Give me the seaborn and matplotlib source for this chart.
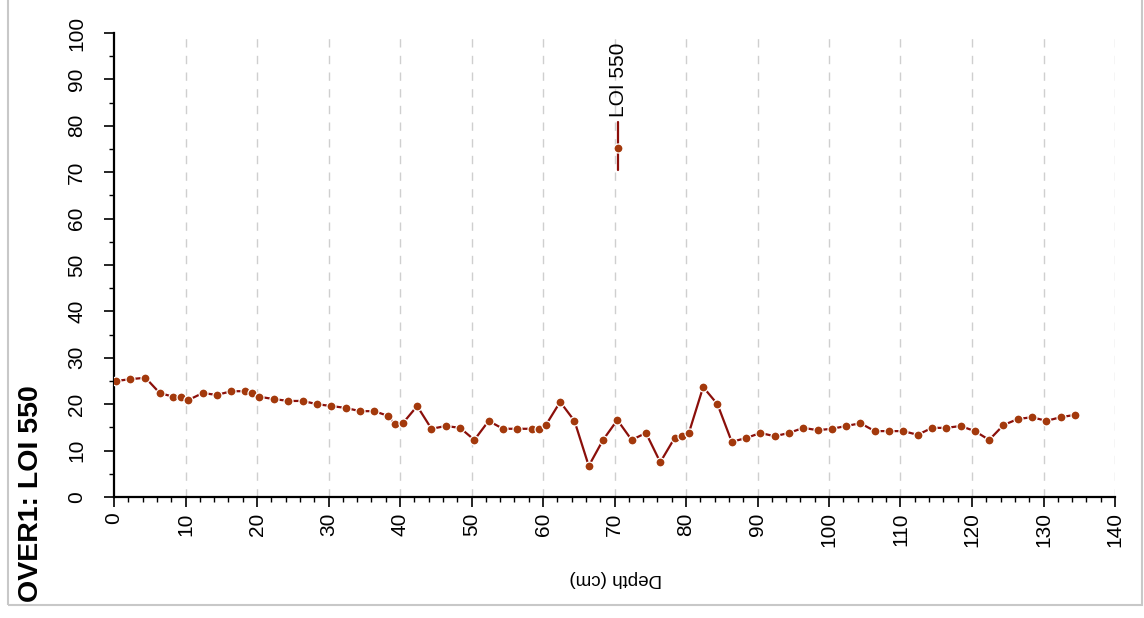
import numpy as np
import pandas as pd
import matplotlib
matplotlib.use("Agg")
import matplotlib.pyplot as plt
from matplotlib.lines import Line2D
from matplotlib.patches import Rectangle
from matplotlib.ticker import MultipleLocator
import seaborn as sns

# ---- data ----
depth = [0.3, 2.3, 4.4, 6.4, 8.3, 9.4, 10.4, 12.4, 14.4, 16.4, 18.3, 19.3, 20.3,
         22.4, 24.4, 26.4, 28.4, 30.4, 32.4, 34.4, 36.4, 38.3, 39.3, 40.4, 42.4,
         44.4, 46.4, 48.4, 50.4, 52.4, 54.4, 56.4, 58.4, 59.4, 60.4, 62.4, 64.4,
         66.4, 68.4, 70.4, 72.4, 74.4, 76.4, 78.4, 79.4, 80.4, 82.4, 84.4, 86.4,
         88.4, 90.4, 92.4, 94.4, 96.4, 98.4, 100.4, 102.4, 104.4, 106.4, 108.4,
         110.4, 112.4, 114.4, 116.4, 118.4, 120.4, 122.4, 124.4, 126.4, 128.4,
         130.4, 132.4, 134.4]
loi550 = [25.0, 25.4, 25.7, 22.4, 21.6, 21.6, 20.9, 22.4, 22.0, 22.8, 22.8, 22.4, 21.6,
          21.1, 20.7, 20.7, 20.0, 19.6, 19.2, 18.5, 18.5, 17.5, 15.7, 15.9, 19.6,
          14.7, 15.3, 14.9, 12.3, 16.4, 14.7, 14.7, 14.7, 14.7, 15.5, 20.5, 16.4,
          6.7, 12.3, 16.6, 12.3, 13.8, 7.5, 12.7, 13.1, 13.8, 23.7, 20.0, 11.9,
          12.7, 13.8, 13.1, 13.8, 14.9, 14.4, 14.7, 15.3, 15.9, 14.2, 14.2,
          14.2, 13.4, 14.9, 14.9, 15.3, 14.2, 12.3, 15.5, 16.8, 17.2,
          16.4, 17.2, 17.7]
x_ticks = list(range(0, 141, 10))
y_ticks = list(range(0, 101, 10))
series_name = "LOI 550"
title = "OVER1: LOI 550"
x_label = "Depth (cm)"

line_color = "#8B0F0A"
marker_color = "#A3390C"

sns.set_style("white")
plt.rcParams["font.family"] = ["Liberation Sans", "DejaVu Sans"]
plt.rcParams["text.color"] = "black"
plt.rcParams["xtick.color"] = "black"
plt.rcParams["ytick.color"] = "black"
plt.rcParams["xtick.labelcolor"] = "black"
plt.rcParams["ytick.labelcolor"] = "black"

fig = plt.figure(figsize=(11.44, 6.18), dpi=100)
ax = fig.add_axes([114 / 1144, 1 - 497 / 618, (1115 - 114) / 1144, (497 - 33) / 618])

df = pd.DataFrame({"depth": depth, "loi": loi550})
sns.lineplot(data=df, x="depth", y="loi", ax=ax, color=line_color, linewidth=1.6,
             marker="o", markersize=6.5, markerfacecolor=marker_color,
             markeredgecolor="white", markeredgewidth=0.9, zorder=3)

ax.set_xlim(0, 140)
ax.set_ylim(0, 100)
ax.set_xticks(x_ticks)
ax.set_yticks(y_ticks)
ax.set_xticklabels([str(v) for v in x_ticks], rotation=90, fontsize=15)
ax.set_yticklabels([str(v) for v in y_ticks], rotation=90, va="center", fontsize=15)
ax.xaxis.set_minor_locator(MultipleLocator(2))
ax.yaxis.set_minor_locator(MultipleLocator(5))
ax.tick_params(axis="both", which="major", direction="out", length=7, width=1.2,
               color="black", bottom=True, left=True)
ax.tick_params(axis="both", which="minor", direction="out", length=3.5, width=1.0,
               color="black", bottom=True, left=True)
ax.tick_params(axis="x", which="major", pad=4)
ax.tick_params(axis="y", which="major", pad=13)

for s in ["top", "right"]:
    ax.spines[s].set_visible(False)
for s in ["left", "bottom"]:
    ax.spines[s].set_color("black")
    ax.spines[s].set_linewidth(1.6)

ax.set_xlabel("")
ax.set_ylabel("")
for v in x_ticks[1:]:
    ax.axvline(v, color="#CFCFCF", linewidth=1.0, linestyle=(0, (6, 6)), zorder=0)

fig.text(616 / 1144, 1 - 578 / 618, x_label, rotation=180, ha="center", va="center",
         fontsize=13.5, color="black")
fig.text(31 / 1144, 1 - 602 / 618, title, rotation=90, ha="center", va="bottom",
         fontsize=20.5, fontweight="bold", color="black")

# legend (rotated)
lx = 618 / 1144
fig.add_artist(Line2D([lx, lx], [1 - 170 / 618, 1 - 122 / 618], transform=fig.transFigure,
                      color=line_color, linewidth=1.6))
fig.add_artist(Line2D([lx], [1 - 148 / 618], transform=fig.transFigure, marker="o",
                      markersize=6.5, markerfacecolor=marker_color,
                      markeredgecolor="white", markeredgewidth=0.9, linestyle="none"))
fig.text(lx, 1 - 117 / 618, series_name, rotation=90, ha="center", va="bottom",
         fontsize=15, color="black")

# outer frame
fig.add_artist(Rectangle((8 / 1144, 1 - 605 / 618), (1142 - 8) / 1144, 1.0,
                         transform=fig.transFigure, fill=False,
                         edgecolor="#C8C8C8", linewidth=1.5))

fig.savefig("out.png", dpi=100)
